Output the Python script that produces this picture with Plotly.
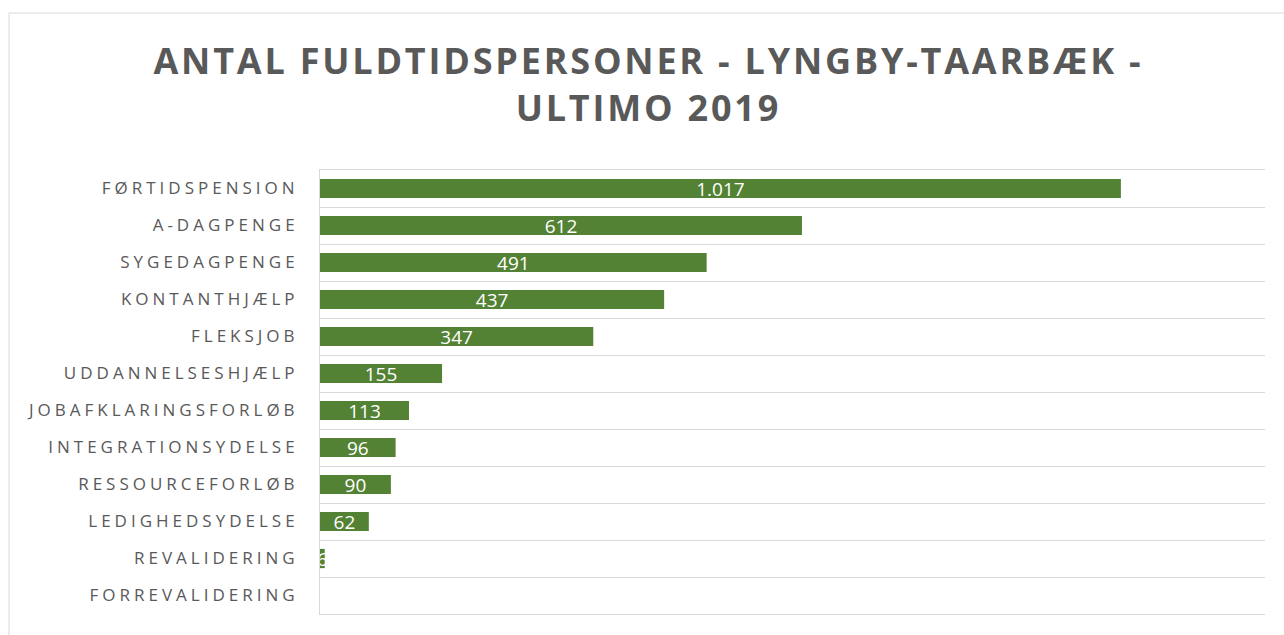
import plotly.graph_objects as go

categories = ["FØRTIDSPENSION", "A-DAGPENGE", "SYGEDAGPENGE", "KONTANTHJÆLP", "FLEKSJOB",
              "UDDANNELSESHJÆLP", "JOBAFKLARINGSFORLØB", "INTEGRATIONSYDELSE",
              "RESSOURCEFORLØB", "LEDIGHEDSYDELSE", "REVALIDERING", "FORREVALIDERING"]
values = [1017, 612, 491, 437, 347, 155, 113, 96, 90, 62, 6, 0]
labels = [f"{v:,}".replace(",", ".") if v else "" for v in values]
title_text = "ANTAL FULDTIDSPERSONER - LYNGBY-TAARBÆK -<br>ULTIMO 2019"

GREEN = "#548235"
GREY = "#595959"
GRID = "#d9d9d9"

fig = go.Figure(go.Bar(
    y=categories, x=values, orientation="h",
    marker=dict(color=GREEN, line=dict(width=0)),
    text=labels, textposition="inside", insidetextanchor="middle",
    constraintext="none", textangle=0, cliponaxis=True,
    textfont=dict(family="Open Sans", size=19, color="white"),
    hoverinfo="skip",
))

fig.update_layout(
    width=1284, height=635,
    margin=dict(l=320, r=19, t=170, b=21),
    paper_bgcolor="white", plot_bgcolor="white",
    bargap=0.48,
    showlegend=False,
    title=dict(text=title_text, x=0.505, xanchor="center", yref="container",
               y=1 - 74 / 635, yanchor="top",
               font=dict(family="Open Sans", size=36, color=GREY, weight="bold")),
    xaxis=dict(range=[0, 1200], showgrid=False, zeroline=False, showticklabels=False,
               showline=True, mirror=True, linecolor=GRID, fixedrange=True),
    yaxis=dict(autorange="reversed", tickson="boundaries", showgrid=True, gridcolor=GRID,
               gridwidth=1, ticks="", ticklabelstandoff=17, showline=True, linecolor=GRID,
               tickfont=dict(family="Open Sans", size=17, color=GREY)),
    shapes=[dict(type="rect", xref="paper", yref="paper", x0=(9 - 320) / 945, x1=1.1,
                 y0=-0.2, y1=(614 - 13) / 444, line=dict(color=GRID, width=1),
                 fillcolor="rgba(0,0,0,0)", layer="below")],
)

js = """
var gd = document.getElementById('{plot_id}');
function sp(){
  gd.querySelectorAll('.ytick text').forEach(function(t){t.style.letterSpacing='4px';});
  gd.querySelectorAll('.gtitle').forEach(function(t){t.style.letterSpacing='2.8px';});
}
sp();
gd.on('plotly_afterplot', sp);
"""
fig.write_html("out.html", post_script=js)
